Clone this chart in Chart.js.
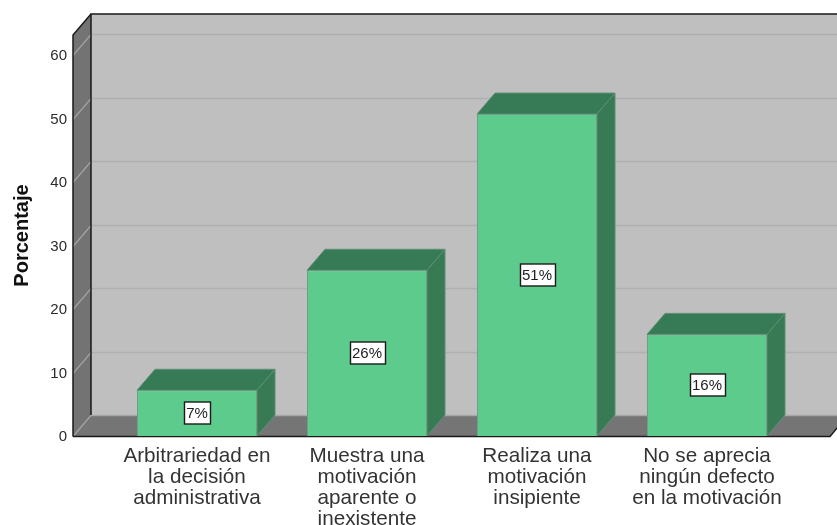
<!DOCTYPE html>
<html>
<head>
<meta charset="utf-8">
<script src="https://cdn.jsdelivr.net/npm/chart.js@4"></script>
<style>
  html, body { margin: 0; padding: 0; background: #fff; }
  #wrap { width: 837px; height: 525px; }
</style>
</head>
<body>
<div id="wrap"><canvas id="chart" width="837" height="525"></canvas></div>
<script>
// ===== Data =====
const categories = [
    ['Arbitrariedad en', 'la decisión', 'administrativa'],
    ['Muestra una', 'motivación', 'aparente o', 'inexistente'],
    ['Realiza una', 'motivación', 'insipiente'],
    ['No se aprecia', 'ningún defecto', 'en la motivación']
];
const values = [7.2, 26.1, 50.7, 16.0];
const valueLabels = ['7%', '26%', '51%', '16%'];
const axisTitle = 'Porcentaje';

const FONT = "'Liberation Sans', Arial, sans-serif";
const depthX = 18, depthY = 21;

function poly(ctx, pts, fill, stroke, lw) {
    ctx.beginPath();
    pts.forEach((p, i) => i ? ctx.lineTo(p[0], p[1]) : ctx.moveTo(p[0], p[1]));
    ctx.closePath();
    if (fill) { ctx.fillStyle = fill; ctx.fill(); }
    if (stroke) { ctx.strokeStyle = stroke; ctx.lineWidth = lw || 1; ctx.stroke(); }
}

function line(ctx, pts, color, lw) {
    ctx.beginPath();
    pts.forEach((p, i) => i ? ctx.lineTo(p[0], p[1]) : ctx.moveTo(p[0], p[1]));
    ctx.strokeStyle = color;
    ctx.lineWidth = lw;
    ctx.stroke();
}

// Box walls, floor and grid behind the bars, plus the depth faces of each bar
const box3d = {
    id: 'box3d',
    beforeDatasetsDraw(chart) {
        const { ctx, scales } = chart;
        const y = scales.y;
        const top = y.top, bottom = y.bottom;
        const left = 73, right = 830;
        ctx.save();

        // back wall
        poly(ctx, [[left + depthX, top - depthY], [right + depthX, top - depthY],
                   [right + depthX, bottom - depthY], [left + depthX, bottom - depthY]], '#bfbfbf');
        // left wall
        poly(ctx, [[left, top], [left + depthX, top - depthY],
                   [left + depthX, bottom - depthY], [left, bottom]], '#737373');
        // floor
        poly(ctx, [[left, bottom], [left + depthX, bottom - depthY],
                   [right + depthX, bottom - depthY], [right, bottom]], '#757575');

        // grid lines
        y.ticks.forEach(t => {
            const py = Math.round(y.getPixelForValue(t.value)) + 0.5;
            if (t.value > 0) {
                line(ctx, [[left + depthX, py - depthY], [right + depthX, py - depthY]], '#b0b0b0', 1.5);
            }
            line(ctx, [[left, py], [left + depthX, py - depthY]], '#a3a3a3', 1.2);
        });
        line(ctx, [[left + depthX, bottom - depthY + 0.5], [right + depthX, bottom - depthY + 0.5]], '#a8a8a8', 1.5);

        // frame
        line(ctx, [[left + depthX, bottom - depthY], [left + depthX, top - depthY], [right + depthX, top - depthY]], '#1a1a1a', 1.5);
        line(ctx, [[left, bottom + 0.5], [left, top], [left + depthX, top - depthY]], '#1a1a1a', 1.5);
        line(ctx, [[left, bottom + 0.5], [right, bottom + 0.5], [right + depthX, bottom - depthY]], '#1a1a1a', 1.5);

        // bar top and side faces
        chart.getDatasetMeta(0).data.forEach(bar => {
            const l = bar.x - bar.width / 2, r = bar.x + bar.width / 2;
            poly(ctx, [[l, bar.y], [l + depthX, bar.y - depthY], [r + depthX, bar.y - depthY], [r, bar.y]], '#367b55', '#5d8f73', 1);
            poly(ctx, [[r, bar.y], [r + depthX, bar.y - depthY], [r + depthX, bar.base - depthY], [r, bar.base]], '#377a54', '#5d8f73', 1);
        });
        ctx.restore();
    },
    afterDatasetsDraw(chart) {
        const { ctx } = chart;
        ctx.save();
        ctx.font = '15px ' + FONT;
        ctx.textAlign = 'center';
        ctx.textBaseline = 'middle';
        chart.getDatasetMeta(0).data.forEach((bar, i) => {
            const cy = Math.round((bar.y + bar.base) / 2);
            const w = Math.ceil(ctx.measureText(valueLabels[i]).width) + 4;
            const h = 22;
            const bx = Math.round(bar.x - w / 2) + 0.5;
            ctx.fillStyle = '#fff';
            ctx.fillRect(bx, cy - h / 2, w, h);
            ctx.strokeStyle = '#1a1a1a';
            ctx.lineWidth = 1.4;
            ctx.strokeRect(bx, cy - h / 2, w, h);
            ctx.fillStyle = '#222';
            ctx.fillText(valueLabels[i], bar.x, cy + 1);
        });
        ctx.restore();
    }
};

new Chart(document.getElementById('chart').getContext('2d'), {
    type: 'bar',
    data: {
        labels: categories,
        datasets: [{
            data: values,
            backgroundColor: '#5ccb8c',
            borderColor: '#6f9f84',
            borderWidth: 1,
            categoryPercentage: 1,
            barPercentage: 0.706
        }]
    },
    plugins: [box3d],
    options: {
        responsive: false,
        animation: false,
        layout: { padding: { top: 35, right: 45, bottom: 0, left: 0 } },
        plugins: {
            legend: { display: false },
            tooltip: { enabled: false }
        },
        scales: {
            y: {
                min: 0,
                max: 63.15,
                afterFit(scale) { scale.width = 112; scale.paddingTop = 0; scale.paddingBottom = 0; },
                grid: { display: false, drawTicks: false },
                border: { display: false },
                ticks: {
                    stepSize: 10,
                    includeBounds: false,
                    padding: 45,
                    labelOffset: 1,
                    color: '#2b2b2b',
                    font: { family: FONT, size: 15 }
                },
                title: {
                    display: true,
                    text: axisTitle,
                    color: '#111',
                    font: { family: FONT, size: 20, weight: 'bold' },
                    padding: { top: 10, bottom: 0 }
                }
            },
            x: {
                afterFit(scale) { scale.height = 89; scale.paddingTop = 0; scale.paddingBottom = 0; },
                grid: { display: false, drawTicks: false },
                border: { display: false },
                ticks: {
                    autoSkip: false,
                    maxRotation: 0,
                    minRotation: 0,
                    padding: 10,
                    color: '#333',
                    font: { family: FONT, size: 20.7, lineHeight: 1.01 }
                }
            }
        }
    }
});
</script>
</body>
</html>
